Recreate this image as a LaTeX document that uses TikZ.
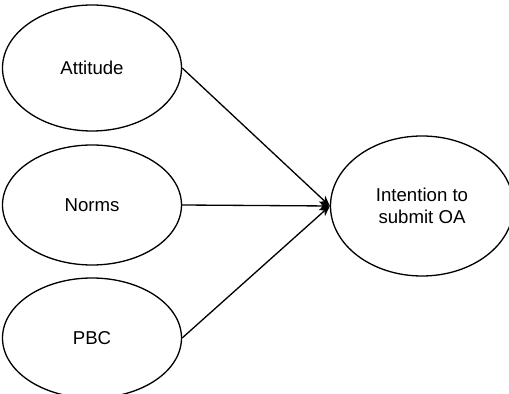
\documentclass[tikz,border=0pt]{standalone}
\usepackage{fontspec}
\setmainfont{Liberation Sans}
\usetikzlibrary{shapes.geometric, arrows.meta}

\begin{document}
\begin{tikzpicture}[construct/.style={shape=ellipse, draw, line width=0.75pt, inner sep=0pt, font=\fontsize{10.6}{12.6}\selectfont, align=center}]
	\useasboundingbox (0,0) rectangle (10.18,7.88);

	\node[construct, minimum width=3.58cm, minimum height=2.52cm] (0) at (1.84,6.52) {Attitude};
	\node[construct, minimum width=3.58cm, minimum height=2.4cm]  (1) at (1.84,3.78) {Norms};
	\node[construct, minimum width=3.58cm, minimum height=2.4cm]  (2) at (1.84,1.12) {PBC};
	\node[construct, minimum width=3.66cm, minimum height=2.8cm]  (3) at (8.44,3.76) {Intention to\\submit OA};

	\path [-{Stealth[length=6pt,width=5pt]}, line width=0.75pt] (0.east) edge (3.west);
	\path [-{Stealth[length=6pt,width=5pt]}, line width=0.75pt] (1.east) edge (3.west);
	\path [-{Stealth[length=6pt,width=5pt]}, line width=0.75pt] (2.east) edge (3.west);
\end{tikzpicture}
\end{document}
